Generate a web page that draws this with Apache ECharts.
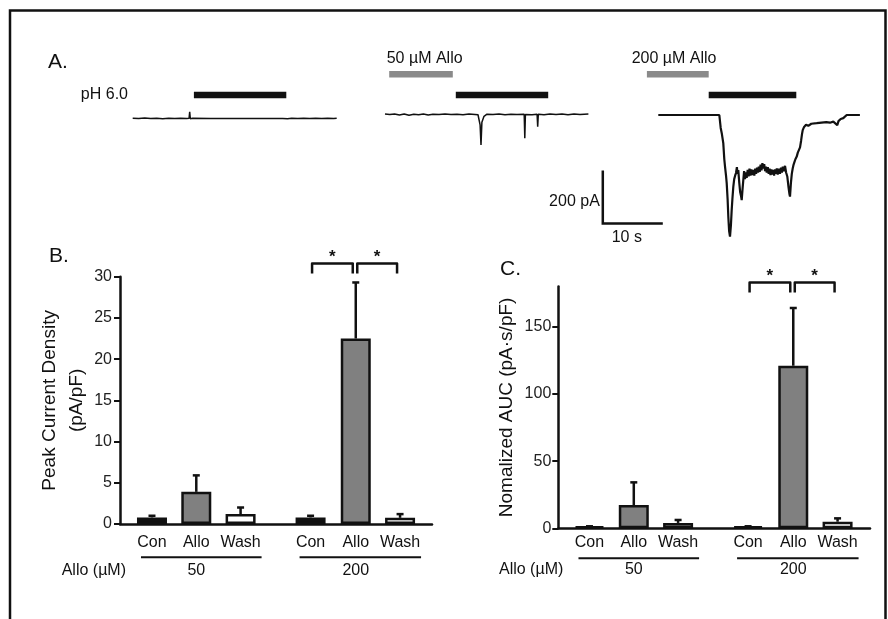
<!DOCTYPE html>
<html>
<head>
<meta charset="utf-8">
<script src="https://cdn.jsdelivr.net/npm/echarts@6/dist/echarts.min.js"></script>
<style>
  html, body { margin: 0; padding: 0; background: #fff; }
  #main { width: 888px; height: 619px; }
</style>
</head>
<body>
<div id="main"></div>
<script>
// ---- panels B and C: bar data ----
const conditions = ['Con', 'Allo', 'Wash', 'Con', 'Allo', 'Wash'];
const doses = ['50', '200'];
const peakMean = [0.8, 3.9, 1.2, 0.8, 22.5, 0.75];   // pA/pF
const peakErrTop = [1.0, 5.9, 2.0, 1.0, 29.3, 1.2];
const aucMean = [1.5, 17.3, 4.0, 1.5, 121, 4.9];     // pA·s/pF
const aucErrTop = [1.5, 34.2, 6.2, 1.5, 164, 7.4];
const sigPairs = [[3, 4], [4, 5]];
const sigLevelB = 31.6;
const sigLevelC = 183;
const aucTicks = [0, 50, 100, 150];

// ---- panel A: current traces [time s, current pA] ----
const trace1 = [[0,5],[1,4],[2,6],[3,4],[4,5],[5,3],[6,5],[7,4],[8,5],[9,4],[9.4,5],[9.5,29],[9.6,3],[10,5],
  [13,4],[17,4],[21,4],[25,4],[25.8,3],[26.5,5],[27.5,4],[28.5,5],[29.5,4],[30.5,5],[31.5,4],[32.5,5],[33.5,4],[34,5]];
const trace2 = [[0,21],[0.8,19],[1.6,21],[2.4,17],[3.2,21],[4,16],[4.8,20],[5.6,18],[6.4,21],[7.2,17],[8,20],[9,19],
  [10,21],[11,19],[12,20],[13,18],[14,21],[15,19],[15.5,18],[15.85,-20],[16.0,-96],[16.15,-10],[16.5,12],[17,20],
  [18,19],[19,21],[20,18],[21,20],[22,19],[23.2,20],[23.3,-71],[23.4,19],[24.5,18],[25.35,20],[25.45,-27],[25.55,20],
  [26.5,18],[27.5,21],[28.5,19],[29.5,21],[30.5,18],[31.5,21],[32.5,19],[33.9,21]];
const trace3 = [[0,17],[5,17],[10.17,17],[10.4,-32],[10.6,-55],[10.83,-89],[11.0,-150],[11.12,-178],[11.3,-215],
  [11.4,-240],[11.55,-300],[11.67,-367],[11.8,-420],[11.95,-442],[12.1,-400],[12.23,-342],[12.35,-300],[12.5,-254],
  [12.65,-225],[12.8,-212],[12.95,-202],[13.1,-180],[13.2,-205],[13.33,-191],[13.5,-240],[13.65,-275],[13.8,-290],
  [13.9,-304],[14.05,-260],[14.17,-228],[14.3,-195],[14.45,-225],[14.6,-200],[14.73,-220],[14.9,-190],[15.05,-215],
  [15.2,-185],[15.35,-212],[15.5,-188],[15.65,-210],[15.83,-190],[16.0,-212],[16.15,-185],[16.3,-205],[16.45,-182],
  [16.6,-200],[16.75,-178],[16.9,-198],[17.05,-170],[17.2,-192],[17.35,-165],[17.5,-185],[17.65,-168],[17.8,-195],
  [17.95,-178],[18.07,-200],[18.25,-180],[18.4,-205],[18.55,-185],[18.7,-210],[18.85,-188],[19.0,-208],[19.17,-190],
  [19.3,-212],[19.45,-188],[19.6,-205],[19.75,-185],[19.9,-208],[20.05,-186],[20.28,-205],[20.45,-182],[20.6,-200],
  [20.75,-178],[20.9,-195],[21.12,-175],[21.3,-200],[21.5,-215],[21.7,-255],[21.85,-280],[21.95,-291],[22.1,-240],
  [22.25,-205],[22.4,-185],[22.55,-170],[22.7,-160],[22.85,-150],[23.07,-140],[23.25,-125],[23.4,-118],[23.62,-105],
  [23.8,-80],[23.95,-55],[24.07,-40],[24.3,-28],[24.62,-20],[25.0,-24],[25.5,-16],[26.4,-14],[27.2,-12],[28.0,-10],
  [28.6,-12],[29.17,-8],[29.5,-10],[29.83,-21],[30.03,-6],[30.4,2],[30.83,5],[31.4,17],[32.5,17],[33.6,17]];
const phPulse = [[10.2, 25.6], [11.8, 27.2], [8.4, 23.0]];   // s, per trace
const alloPulse = [null, [0.7, 11.3], [-1.9, 8.4]];
const scaleBar = [36.3, -392];                               // origin in trace 2 units

// layout
const xPos = [0, 1, 2, 3.58, 4.6, 5.6];
const fills = ['#111', '#808080', '#fff'];
const FONT = 'Liberation Sans, Arial, sans-serif';
const INK = '#111';

const chart = echarts.init(document.getElementById('main'));

function txt(text, x, y, align, vAlign, size, weight) {
  return { type: 'text', style: { text: text, x: x, y: y, textAlign: align, align: align,
    textVerticalAlign: vAlign, verticalAlign: vAlign, font: (weight || 'normal') + ' ' + size + 'px ' + FONT, fill: INK } };
}

function barData(means) {
  return means.map((v, i) => ({ value: [xPos[i], v], itemStyle: { color: fills[i % 3] } }));
}

function errorItem(params, api) {
  const p0 = api.coord([api.value(0), api.value(1)]);
  const p1 = api.coord([api.value(0), api.value(2)]);
  const st = { stroke: INK, lineWidth: 2.5 };
  return { type: 'group', children: [
    { type: 'line', shape: { x1: p0[0], y1: p0[1], x2: p1[0], y2: p1[1] }, style: st },
    { type: 'line', shape: { x1: p1[0] - 3.5, y1: p1[1], x2: p1[0] + 3.5, y2: p1[1] }, style: st }
  ] };
}

function bracketItem(params, api) {
  const a = api.coord([api.value(0), api.value(2)]);
  const b = api.coord([api.value(1), api.value(2)]);
  const x1 = a[0] + 1.5, x2 = b[0] - 3, y = a[1];
  return { type: 'group', children: [
    { type: 'polyline', shape: { points: [[x1, y + 10], [x1, y], [x2, y], [x2, y + 10]] },
      style: { stroke: INK, lineWidth: 2.5, fill: null, lineJoin: 'round' } },
    txt('*', (x1 + x2) / 2, y + 2, 'center', 'bottom', 17, 'bold')
  ] };
}

function groupItem(lineDy, labelDy) {
  return function (params, api) {
    const a = api.coord([api.value(0), 0]);
    const m = api.coord([api.value(1), 0]);
    const b = api.coord([api.value(2), 0]);
    return { type: 'group', children: [
      { type: 'line', shape: { x1: a[0] - 11, y1: a[1] + lineDy, x2: b[0] + 21, y2: a[1] + lineDy },
        style: { stroke: INK, lineWidth: 2 } },
      txt(doses[params.dataIndex], m[0], a[1] + labelDy, 'center', 'middle', 16)
    ] };
  };
}

function pulseItem(color, yPix) {
  return function (params, api) {
    const a = api.coord([api.value(0), 0]);
    const b = api.coord([api.value(1), 0]);
    return { type: 'rect', shape: { x: a[0], y: yPix - 3.3, width: b[0] - a[0], height: 6.6 }, style: { fill: color } };
  };
}

function scaleItem(params, api) {
  const o = api.coord([api.value(0), api.value(1)]);
  const t = api.coord([api.value(0), api.value(1) + 200]);
  const r = api.coord([api.value(0) + 10, api.value(1)]);
  return { type: 'group', children: [
    { type: 'polyline', shape: { points: [t, o, r] }, style: { stroke: INK, lineWidth: 2.5, fill: null } },
    txt('200 pA', o[0] - 3, o[1] - 22, 'right', 'middle', 16),
    txt('10 s', (o[0] + r[0]) / 2 - 6, o[1] + 14, 'center', 'middle', 16)
  ] };
}

const groupsData = [[xPos[0], xPos[1], xPos[2]], [xPos[3], xPos[4], xPos[5]]];

function barAxisX(gridIndex, min, max, labelMargin) {
  return {
    type: 'value', gridIndex: gridIndex, min: min, max: max,
    axisLine: { onZero: false, lineStyle: { color: INK, width: 2.5 } },
    axisTick: { show: false }, splitLine: { show: false },
    axisLabel: {
      customValues: xPos, margin: labelMargin, fontSize: 16, fontFamily: FONT, color: INK,
      formatter: v => conditions[xPos.findIndex(p => Math.abs(p - v) < 1e-6)] || ''
    }
  };
}

const nameStyle = { fontSize: 19, fontFamily: FONT, color: INK, lineHeight: 27 };

const traceGrids = [108.7, 361, 634.3].map(left => ({ left: left, top: 40, width: 240, height: 212 }));

const option = {
  backgroundColor: '#fff',
  animation: false,
  grid: [
    { left: 120, top: 276.7, width: 312, height: 247.3 },
    { left: 558.3, top: 286.5, width: 311.7, height: 241.8 }
  ].concat(traceGrids),
  xAxis: [
    barAxisX(0, -0.722, 6.321, 10.5),
    barAxisX(1, -0.704, 6.332, 6.3)
  ].concat(traceGrids.map((g, k) => ({ type: 'value', gridIndex: k + 2, min: -4, max: 36, show: false }))),
  yAxis: [
    {
      type: 'value', gridIndex: 0, min: 0, max: 30, interval: 5,
      name: 'Peak Current Density\n(pA/pF)', nameLocation: 'middle', nameGap: 24, nameTextStyle: nameStyle,
      axisLine: { onZero: false, lineStyle: { color: INK, width: 2.5 } },
      axisTick: { length: 6, lineStyle: { color: INK, width: 2 } },
      axisLabel: { margin: 8, fontSize: 16, fontFamily: FONT, color: '#222' },
      splitLine: { show: false }
    },
    {
      type: 'value', gridIndex: 1, min: 0, max: 180,
      name: 'Nomalized AUC (pA·s/pF)', nameLocation: 'middle', nameGap: 33, nameTextStyle: nameStyle,
      axisLine: { onZero: false, lineStyle: { color: INK, width: 2.5 } },
      axisTick: { length: 6, customValues: aucTicks, lineStyle: { color: INK, width: 2 } },
      axisLabel: { margin: 7, customValues: aucTicks, fontSize: 16, fontFamily: FONT, color: '#222' },
      splitLine: { show: false }
    }
  ].concat(traceGrids.map((g, k) => ({ type: 'value', gridIndex: k + 2, min: -500, max: 300, show: false }))),
  series: [
    { type: 'bar', xAxisIndex: 0, yAxisIndex: 0, barWidth: 30, data: barData(peakMean),
      itemStyle: { borderColor: INK, borderWidth: 2.5 }, z: 2 },
    { type: 'bar', xAxisIndex: 1, yAxisIndex: 1, barWidth: 30, data: barData(aucMean),
      itemStyle: { borderColor: INK, borderWidth: 2.5 }, z: 2 },
    { type: 'custom', xAxisIndex: 0, yAxisIndex: 0, clip: false, z: 3, renderItem: errorItem,
      data: peakMean.map((v, i) => [xPos[i], v, peakErrTop[i]]) },
    { type: 'custom', xAxisIndex: 1, yAxisIndex: 1, clip: false, z: 3, renderItem: errorItem,
      data: aucMean.map((v, i) => [xPos[i], v, aucErrTop[i]]) },
    { type: 'custom', xAxisIndex: 0, yAxisIndex: 0, clip: false, renderItem: bracketItem,
      data: sigPairs.map(p => [xPos[p[0]], xPos[p[1]], sigLevelB]) },
    { type: 'custom', xAxisIndex: 1, yAxisIndex: 1, clip: false, renderItem: bracketItem,
      data: sigPairs.map(p => [xPos[p[0]], xPos[p[1]], sigLevelC]) },
    { type: 'custom', xAxisIndex: 0, yAxisIndex: 0, clip: false, renderItem: groupItem(33.3, 46.7), data: groupsData },
    { type: 'custom', xAxisIndex: 1, yAxisIndex: 1, clip: false, renderItem: groupItem(30, 41.7), data: groupsData },
    // panel A traces
    { type: 'line', xAxisIndex: 2, yAxisIndex: 2, data: trace1, showSymbol: false, lineStyle: { color: INK, width: 1.5 } },
    { type: 'line', xAxisIndex: 3, yAxisIndex: 3, data: trace2, showSymbol: false, lineStyle: { color: INK, width: 1.5 } },
    { type: 'line', xAxisIndex: 4, yAxisIndex: 4, data: trace3, showSymbol: false, lineStyle: { color: INK, width: 2.2 } },
    ...phPulse.map((p, k) => ({ type: 'custom', xAxisIndex: k + 2, yAxisIndex: k + 2, clip: false,
      renderItem: pulseItem(INK, 95), data: [p] })),
    ...alloPulse.map((p, k) => p && ({ type: 'custom', xAxisIndex: k + 2, yAxisIndex: k + 2, clip: false,
      renderItem: pulseItem('#8a8a8a', 74.3), data: [p] })).filter(Boolean),
    { type: 'custom', xAxisIndex: 3, yAxisIndex: 3, clip: false, renderItem: scaleItem, data: [scaleBar] }
  ],
  graphic: [
    { type: 'rect', shape: { x: 10, y: 10.5, width: 875.5, height: 700 }, style: { fill: null, stroke: INK, lineWidth: 2.5 }, silent: true },
    txt('A.', 48, 62, 'left', 'middle', 21),
    txt('B.', 49, 256, 'left', 'middle', 21),
    txt('C.', 500, 269, 'left', 'middle', 21),
    txt('pH 6.0', 128, 95, 'right', 'middle', 16),
    txt('50 µM Allo', 386.7, 59, 'left', 'middle', 16),
    txt('200 µM Allo', 631.7, 59, 'left', 'middle', 16),
    txt('Allo (µM)', 126, 570.7, 'right', 'middle', 16),
    txt('Allo (µM)', 563.3, 570, 'right', 'middle', 16)
  ]
};

chart.setOption(option);
</script>
</body>
</html>
